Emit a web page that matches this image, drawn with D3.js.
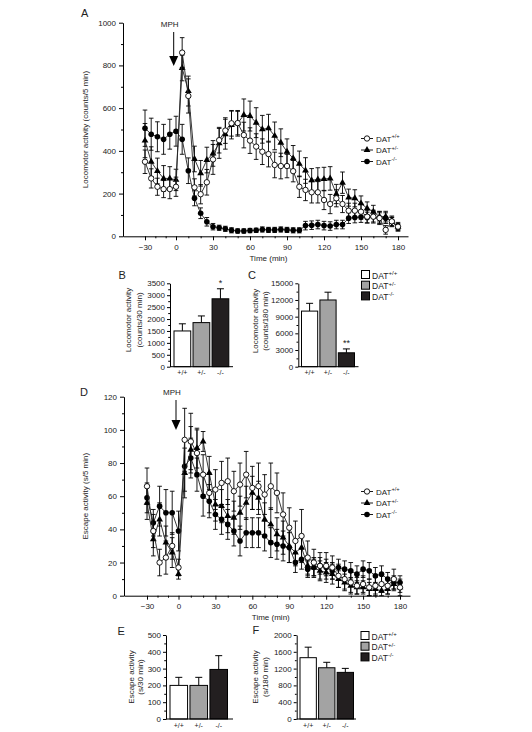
<!DOCTYPE html>
<html><head><meta charset="utf-8">
<script src="https://cdn.jsdelivr.net/npm/d3@7"></script>
<style>
body{margin:0;background:#fff}
svg{display:block}
text{font-family:"Liberation Sans",Arial,sans-serif;fill:#222}
</style>
</head><body><svg id="c" width="532" height="732"></svg>
<script>
// ---------- DATA ----------
const timesPre = [-30,-24,-18,-12,-6,0];
const timesPost = [5,10,15,20,25,30,35,40,45,50,55,60,65,70,75,80,85,90,95,100,105,110,115,120,125,130,135,140,145,150,155,160,165,170,175,180];
const times = timesPre.concat(timesPost);
const xTicks = [-30,0,30,60,90,120,150,180];
const xMinor = [-20,-10,10,20,40,50,70,80,100,110,130,140,160,170];

// Panel A: locomotor activity (counts/5 min)
const locoWT  = [349,271,232,221,221,232, 860,657,229,197,253,360,450,495,529,530,474,448,420,396,385,334,329,329,305,232,217,206,206,170,151,178,151,120,120,115,92,92,85,30,70,45];
const locoWTe = [55,45,40,40,45,45, 70,80,40,45,60,70,60,60,60,55,60,60,60,60,60,60,60,55,50,50,50,50,50,45,45,40,40,35,35,35,30,30,30,20,25,20];
const locoHet  = [448,349,306,271,271,264, 788,680,362,295,357,388,435,478,521,529,568,563,532,501,506,470,438,396,365,339,308,262,266,268,271,198,251,181,178,154,131,115,92,92,68,45];
const locoHete = [80,70,60,60,55,50, 60,70,60,60,60,60,70,70,65,60,75,70,70,65,65,65,65,60,60,60,60,55,55,55,55,45,50,40,40,35,30,30,25,25,20,15];
const locoKO  = [506,478,466,454,478,492, 454,307,178,108,68,45,40,35,28,25,25,27,28,32,30,30,32,30,28,28,50,52,55,50,48,55,55,85,88,90,88,92,85,85,70,40];
const locoKOe = [85,75,70,70,70,70, 70,60,35,25,20,15,12,12,12,10,10,10,10,12,12,12,12,12,12,12,20,20,20,20,20,20,20,25,25,25,25,25,25,25,20,15];
const locoTicks = [0,200,400,600,800,1000];
const locoMinor = [100,300,500,700,900];

// Panel D: escape activity (s/5 min)
const escWT  = [66,39,20,23,30,17, 94,93,86,73,62,64,68,69,63,67,73,65,66,61,66,62,49,41,33,36,23,20,18,18,17,12,10,8,6,7,5,6,7,6,10,5];
const escWTe = [11,10,8,10,8,5, 19,17,14,12,12,12,13,14,12,13,14,13,14,12,14,12,13,12,12,16,10,8,8,8,7,7,6,6,5,5,5,5,5,5,6,5];
const escHet  = [56,34,46,32,26,13, 74,88,89,93,74,55,54,48,47,50,56,62,59,46,43,37,35,30,26,29,18,17,15,14,13,10,8,6,5,5,4,4,3,4,7,5];
const escHete = [10,10,10,10,9,3, 15,14,12,6,10,10,10,10,10,10,10,10,10,10,10,10,10,10,8,8,6,6,6,6,6,5,5,5,4,4,4,4,3,3,4,3];
const escKO  = [59,44,54,50,50,39, 78,83,73,60,57,49,46,43,39,33,38,38,38,36,32,31,30,29,20,22,16,17,18,17,15,17,16,15,13,16,15,12,13,10,8,8];
const escKOe = [9,8,12,14,13,12, 15,12,10,12,10,9,9,9,9,9,9,9,9,9,9,9,9,9,6,6,5,5,5,5,5,5,5,5,5,5,5,5,5,4,4,4];
const escTicks = [0,20,40,60,80,100,120];
const escMinor = [10,30,50,70,90,110];

// Bar panels
const genotypes = ["+/+","+/-","-/-"];
const legendSup = ["+/+","+/-","-/-"];
const locoB  = [1500,1850,2850]; const locoBe = [300,280,420];
const locoC  = [10000,12000,2500]; const locoCe = [1400,1400,700];
const escE   = [200,200,295];   const escEe = [48,48,82];
const escF   = [1460,1220,1110]; const escFe = [250,130,95];
const ticksB = [0,500,1000,1500,2000,2500,3000,3500]; const minorB = [250,750,1250,1750,2250,2750,3250];
const ticksC = [0,3000,6000,9000,12000,15000]; const minorC = [1500,4500,7500,10500,13500];
const ticksE = [0,100,200,300,400,500]; const minorE = [50,150,250,350,450];
const ticksF = [0,400,800,1200,1600,2000]; const minorF = [200,600,1000,1400,1800];
const barFill = ["#ffffff","#a3a3a3","#231f20"];

// ---------- DRAWING ----------
const svg = d3.select("#c");
const FONT = 8;
const fmt = d3.format("d");

function styleAxis(g){
  g.select(".domain").attr("stroke","#000").attr("stroke-width",1);
  g.selectAll(".tick line").attr("stroke","#000").attr("stroke-width",1);
  g.selectAll(".tick text").attr("font-size",FONT).attr("fill","#222")
    .attr("font-family",'"Liberation Sans",Arial,sans-serif');
}

function legendLabel(sel, x, y, sup, size){
  const t = sel.append("text").attr("x",x).attr("y",y).attr("font-size",size);
  t.append("tspan").text("DAT");
  t.append("tspan").attr("dy",-size*0.42).attr("font-size",size*0.72).text(sup);
}

function drawMarker(g, type, cx, cy){
  if(type==="open"){
    g.append("circle").attr("cx",cx).attr("cy",cy).attr("r",2.7).attr("fill","#fff").attr("stroke","#000").attr("stroke-width",0.9);
  } else if(type==="filled"){
    g.append("circle").attr("cx",cx).attr("cy",cy).attr("r",2.8).attr("fill","#000");
  } else {
    g.append("path").attr("d",d3.symbol(d3.symbolTriangle).size(20)()).attr("transform",`translate(${cx},${cy})`).attr("fill","#000");
  }
}

function linePanel(cfg){
  const g = svg.append("g");
  const x = d3.scaleLinear().domain([cfg.xMin,-30,0,180,cfg.xMax]).range(cfg.xRange);
  const y = d3.scaleLinear().domain([0,cfg.yMax]).range([cfg.y0,cfg.yTop]);
  const xa = g.append("g").attr("transform",`translate(0,${cfg.y0})`)
    .call(d3.axisBottom(x).tickValues(xTicks).tickFormat(fmt).tickSize(4).tickSizeOuter(0).tickPadding(4));
  styleAxis(xa);
  const xm = g.append("g").attr("transform",`translate(0,${cfg.y0})`)
    .call(d3.axisBottom(x).tickValues(xMinor).tickSize(2).tickFormat(""));
  styleAxis(xm); xm.select(".domain").remove();
  const ya = g.append("g").attr("transform",`translate(${cfg.xRange[0]},0)`)
    .call(d3.axisLeft(y).tickValues(cfg.yTicks).tickFormat(fmt).tickSize(4).tickSizeOuter(0).tickPadding(3));
  styleAxis(ya);
  const ym = g.append("g").attr("transform",`translate(${cfg.xRange[0]},0)`)
    .call(d3.axisLeft(y).tickValues(cfg.yMinor).tickSize(2).tickFormat(""));
  styleAxis(ym); ym.select(".domain").remove();

  const line = d3.line().x((d,i)=>x(times[i])).y(d=>y(d));
  cfg.series.forEach(s=>{
    const sg = g.append("g");
    s.vals.forEach((v,i)=>{
      const cx = x(times[i]);
      const lo = y(Math.max(0,v-s.err[i])), hi = y(v+s.err[i]);
      sg.append("line").attr("x1",cx).attr("x2",cx).attr("y1",lo).attr("y2",hi).attr("stroke","#000").attr("stroke-width",0.9);
      sg.append("line").attr("x1",cx-2.3).attr("x2",cx+2.3).attr("y1",hi).attr("y2",hi).attr("stroke","#000").attr("stroke-width",0.9);
      sg.append("line").attr("x1",cx-2.3).attr("x2",cx+2.3).attr("y1",lo).attr("y2",lo).attr("stroke","#000").attr("stroke-width",0.9);
    });
    sg.append("path").datum(s.vals).attr("d",line).attr("fill","none").attr("stroke","#222").attr("stroke-width",0.9);
    s.vals.forEach((v,i)=>drawMarker(sg,s.type,x(times[i]),y(v)));
  });

  // y label
  g.append("text").attr("transform",`translate(${cfg.yLabelX},${(cfg.y0+cfg.yTop)/2}) rotate(-90)`)
    .attr("text-anchor","middle").attr("font-size",FONT).text(cfg.yLabel);
  // x label
  g.append("text").attr("x",x(75)).attr("y",cfg.timeY).attr("text-anchor","middle").attr("font-size",FONT).text("Time (min)");
  // panel letter
  g.append("text").attr("x",cfg.letterX).attr("y",cfg.letterY).attr("font-size",11).text(cfg.letter);
  // MPH arrow
  const ax = cfg.arrowX;
  g.append("text").attr("x",ax-4).attr("y",cfg.mphY).attr("text-anchor","middle").attr("font-size",FONT).text("MPH");
  g.append("line").attr("x1",ax).attr("x2",ax).attr("y1",cfg.arrowY1).attr("y2",cfg.arrowY2).attr("stroke","#000").attr("stroke-width",1);
  g.append("path").attr("d",`M${ax-4.5},${cfg.arrowY2-1}L${ax+4.5},${cfg.arrowY2-1}L${ax},${cfg.arrowY2+9}Z`).attr("fill","#000");
  // legend
  const lg = g.append("g");
  cfg.series.slice().reverse().forEach((s,i)=>{
    const ly = cfg.legY + i*11.5;
    lg.append("line").attr("x1",361).attr("x2",373).attr("y1",ly).attr("y2",ly).attr("stroke","#000").attr("stroke-width",0.9);
    drawMarker(lg,s.type,367,ly);
    legendLabel(lg,376,ly+3,legendSup[i],8);
  });
}

linePanel({
  xMin:-51, xMax:188, xRange:[123,145,176,398,408], y0:236.3, yTop:22.7, yMax:1000,
  yTicks:locoTicks, yMinor:locoMinor, yLabel:"Locomotor activity (counts/5 min)", yLabelX:88,
  timeY:261, letter:"A", letterX:81, letterY:17, arrowX:173.7, mphY:27, arrowY1:32, arrowY2:57,
  legY:138.5,
  series:[{type:"filled",vals:locoKO,err:locoKOe},{type:"tri",vals:locoHet,err:locoHete},{type:"open",vals:locoWT,err:locoWTe}]
});
linePanel({
  xMin:-52, xMax:188, xRange:[124,147,178.5,400,410], y0:595.7, yTop:396.7, yMax:120,
  yTicks:escTicks, yMinor:escMinor, yLabel:"Escape activity (s/5 min)", yLabelX:88,
  timeY:620, letter:"D", letterX:80, letterY:396, arrowX:176, mphY:395, arrowY1:400, arrowY2:421,
  legY:491.5,
  series:[{type:"filled",vals:escKO,err:escKOe},{type:"tri",vals:escHet,err:escHete},{type:"open",vals:escWT,err:escWTe}]
});

function barPanel(cfg){
  const g = svg.append("g");
  const x = d3.scaleBand().domain(genotypes).range(cfg.barRange).paddingInner(0.12);
  const y = d3.scaleLinear().domain([0,cfg.yMax]).range([cfg.y0,cfg.yTop]);
  cfg.vals.forEach((v,i)=>{
    const bx = x(genotypes[i]), bw = x.bandwidth(), cx = bx+bw/2;
    const top = y(v+cfg.err[i]);
    g.append("line").attr("x1",cx).attr("x2",cx).attr("y1",y(v)).attr("y2",top).attr("stroke","#000").attr("stroke-width",1);
    g.append("line").attr("x1",cx-3.5).attr("x2",cx+3.5).attr("y1",top).attr("y2",top).attr("stroke","#000").attr("stroke-width",1);
    g.append("rect").attr("x",bx).attr("y",y(v)).attr("width",bw).attr("height",cfg.y0-y(v))
      .attr("fill",barFill[i]).attr("stroke","#000").attr("stroke-width",1);
    if(cfg.stars && cfg.stars[i]){
      g.append("text").attr("x",cx).attr("y",top-3).attr("text-anchor","middle").attr("font-size",9).text(cfg.stars[i]);
    }
  });
  const ya = g.append("g").attr("transform",`translate(${cfg.axisX},0)`)
    .call(d3.axisLeft(y).tickValues(cfg.ticks).tickFormat(fmt).tickSize(3).tickSizeOuter(0).tickPadding(2));
  styleAxis(ya);
  const ym = g.append("g").attr("transform",`translate(${cfg.axisX},0)`)
    .call(d3.axisLeft(y).tickValues(cfg.minor).tickSize(1.8).tickFormat(""));
  styleAxis(ym); ym.select(".domain").remove();
  g.append("line").attr("x1",cfg.axisX).attr("x2",cfg.axisEnd).attr("y1",cfg.y0).attr("y2",cfg.y0).attr("stroke","#000").attr("stroke-width",1);
  genotypes.forEach(k=>{
    g.append("text").attr("x",x(k)+x.bandwidth()/2).attr("y",cfg.y0+8.5).attr("text-anchor","middle").attr("font-size",7).text(k);
  });
  const cy = cfg.labelCY;
  g.append("text").attr("transform",`translate(${cfg.labelX[0]},${cy}) rotate(-90)`).attr("text-anchor","middle").attr("font-size",FONT).text(cfg.label[0]);
  g.append("text").attr("transform",`translate(${cfg.labelX[1]},${cy}) rotate(-90)`).attr("text-anchor","middle").attr("font-size",FONT).text(cfg.label[1]);
  g.append("text").attr("x",cfg.letter[1]).attr("y",cfg.letter[2]).attr("font-size",11).text(cfg.letter[0]);
  if(cfg.legend){
    genotypes.forEach((k,i)=>{
      const ly = cfg.legend[1] + i*10.7;
      g.append("rect").attr("x",cfg.legend[0]).attr("y",ly).attr("width",8).attr("height",8)
        .attr("fill",barFill[i]).attr("stroke","#000").attr("stroke-width",1);
      legendLabel(g,cfg.legend[0]+10.5,ly+8,legendSup[i],8.5);
    });
  }
}

barPanel({vals:locoB, err:locoBe, stars:["","","*"], yMax:3500, ticks:ticksB, minor:minorB,
  y0:366.7, yTop:283.3, axisX:170, axisEnd:233, barRange:[174,228.8],
  label:["Locomotor activity","(counts/30 min)"], labelX:[131,141.5], labelCY:320, letter:["B",118.5,279]});
barPanel({vals:locoC, err:locoCe, stars:["","","**"], yMax:15000, ticks:ticksC, minor:minorC,
  y0:366.7, yTop:283.3, axisX:298.3, axisEnd:358.5, barRange:[301.5,354.5],
  label:["Locomotor activity","(counts/180 min)"], labelX:[258,268], labelCY:321, letter:["C",248,279],
  legend:[361.5,270.5]});
barPanel({vals:escE, err:escEe, yMax:500, ticks:ticksE, minor:minorE,
  y0:719, yTop:635, axisX:166, axisEnd:233, barRange:[170,227.5],
  label:["Escape activity","(s/30 min)"], labelX:[134,143], labelCY:677, letter:["E",117.5,635]});
barPanel({vals:escF, err:escFe, yMax:2000, ticks:ticksF, minor:minorF,
  y0:719, yTop:635, axisX:296.7, axisEnd:356, barRange:[300,353.5],
  label:["Escape activity","(s/180 min)"], labelX:[258,268], labelCY:677, letter:["F",252.5,634],
  legend:[361,631.5]});
</script>
</body></html>
